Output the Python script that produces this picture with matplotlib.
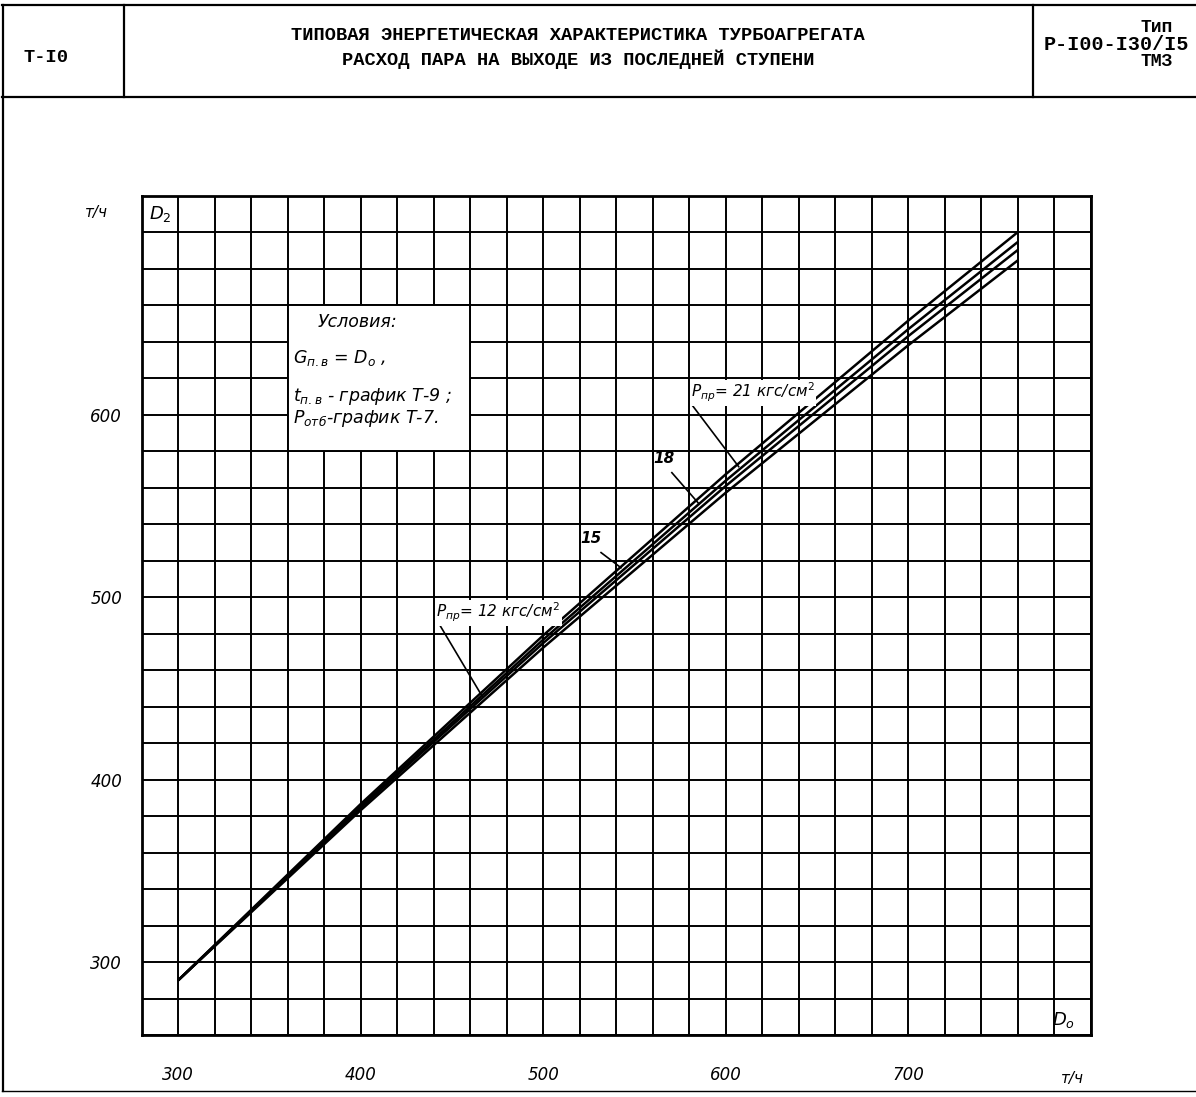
import matplotlib
matplotlib.use("Agg")
import matplotlib.pyplot as plt
from matplotlib.patches import Rectangle

# D0, т/ч
d0 = [300, 400, 500, 600, 700, 760]
# D2, т/ч for each P_пр (кгс/см2)
d2_p21 = [290, 386.6, 479.0, 567.3, 651.5, 700.0]
d2_p18 = [290, 385.4, 476.7, 563.8, 646.8, 694.6]
d2_p15 = [290, 384.5, 474.8, 560.9, 643.0, 690.2]
d2_p12 = [290, 383.2, 472.3, 557.2, 638.0, 684.5]

x_ticks = [300, 400, 500, 600, 700]
y_ticks = [300, 400, 500, 600]

W, H = 1196, 1097
fig = plt.figure(figsize=(W / 100, H / 100), dpi=100)


def fx(px):
    return px / W


def fy(py):
    return 1 - py / H


# frame and header
def hline(py, x0, x1, lw=1.6):
    fig.add_artist(plt.Line2D([fx(x0), fx(x1)], [fy(py), fy(py)], color="black", lw=lw))


def vline(px, y0, y1, lw=1.6):
    fig.add_artist(plt.Line2D([fx(px), fx(px)], [fy(y0), fy(y1)], color="black", lw=lw))


hline(5, 2, 1196)
hline(97, 2, 1196)
hline(1091, 2, 1196, lw=1.0)
vline(3, 5, 1091)
vline(124, 5, 97)
vline(1033, 5, 97)

mono = dict(family="Liberation Mono", fontweight="bold", color="black")
fig.text(fx(46), fy(58), "Т-I0", ha="center", va="center", fontsize=13.5, **mono)
fig.text(fx(578), fy(36), "ТИПОВАЯ ЭНЕРГЕТИЧЕСКАЯ ХАРАКТЕРИСТИКА ТУРБОАГРЕГАТА",
         ha="center", va="center", fontsize=13.5, **mono)
fig.text(fx(578), fy(59), "РАСХОД ПАРА НА ВЫХОДЕ ИЗ ПОСЛЕДНЕЙ СТУПЕНИ",
         ha="center", va="center", fontsize=13.5, **mono)
fig.text(fx(1157), fy(27), "Тип", ha="center", va="center", fontsize=13, **mono)
fig.text(fx(1116), fy(44), "Р-I00-I30/I5", ha="center", va="center", fontsize=14.5, **mono)
fig.text(fx(1157), fy(61), "ТМЗ", ha="center", va="center", fontsize=13, **mono)

# chart area
ax = fig.add_axes([fx(141.7), fy(1035), fx(1090.7) - fx(141.7), fy(195.7) - fy(1035)])
ax.set_xlim(280, 800)
ax.set_ylim(260, 720)
ax.set_xticks(range(280, 801, 20))
ax.set_yticks(range(260, 721, 20))
ax.set_xticklabels([str(v) if v in x_ticks else "" for v in range(280, 801, 20)])
ax.set_yticklabels([str(v) if v in y_ticks else "" for v in range(260, 721, 20)])
ax.tick_params(length=0, labelsize=12, pad=14)
ax.tick_params(axis="x", pad=22)
for lab in ax.get_xticklabels() + ax.get_yticklabels():
    lab.set_fontstyle("italic")
ax.grid(True, color="black", lw=1.4)
ax.set_axisbelow(True)
for s in ax.spines.values():
    s.set_linewidth(2.0)

for series in (d2_p21, d2_p18, d2_p15, d2_p12):
    ax.plot(d0, series, color="black", lw=1.8, solid_capstyle="butt", zorder=3)

# conditions box
ax.add_patch(Rectangle((360, 580), 100, 80, facecolor="white", edgecolor="black", lw=1.4, zorder=4))
it = dict(fontstyle="italic", fontsize=12.5, color="black", zorder=5)
ax.text(398, 651, "Условия:", ha="center", va="center", **it)
ax.text(363, 631, r"$G_{п.в}$ = $D_о$ ,", ha="left", va="center", **it)
ax.text(363, 610, r"$t_{п.в}$ - график Т-9 ;", ha="left", va="center", **it)
ax.text(363, 598, r"$P_{отб}$-график Т-7.", ha="left", va="center", **it)

# curve labels with leaders
lab = dict(fontstyle="italic", fontsize=11, color="black", zorder=5)
box = dict(facecolor="white", edgecolor="none", pad=1)
ax.text(581, 612, r"$P_{пр}$= 21 кгс/см$^2$", ha="left", va="center", bbox=box, **lab)
ax.plot([581.4, 607.1], [605.5, 571.5], color="black", lw=1.2, zorder=4)
ax.text(566, 576, "18", ha="center", va="center", fontweight="bold", **lab)
ax.plot([570.5, 585.2], [568.2, 551.3], color="black", lw=1.2, zorder=4)
ax.text(526, 532, "15", ha="center", va="center", fontweight="bold", **lab)
ax.plot([531.7, 542.6], [524.4, 516.1], color="black", lw=1.2, zorder=4)
ax.text(441.5, 491.4, r"$P_{пр}$= 12 кгс/см$^2$", ha="left", va="center", bbox=box, **lab)
ax.plot([443.2, 466.7], [484.9, 445.4], color="black", lw=1.2, zorder=4)

# axis names
ax.text(290, 710, r"$D_2$", ha="center", va="center", fontsize=13, fontstyle="italic", zorder=5)
ax.text(785, 268, r"$D_о$", ha="center", va="center", fontsize=13, fontstyle="italic", zorder=5)
ax.text(255, 711, "т/ч", ha="center", va="center", fontsize=11, fontstyle="italic", clip_on=False)
ax.text(790, 236, "т/ч", ha="center", va="center", fontsize=11, fontstyle="italic", clip_on=False)

fig.savefig("out.png", dpi=100)
